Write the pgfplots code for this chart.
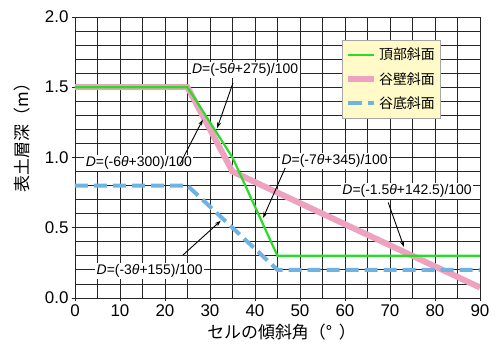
\documentclass[border=0pt]{standalone}
\usepackage{pgfplots}
\pgfplotsset{compat=1.18}
\usepackage{fontspec}
\setmainfont{Liberation Sans}
\newfontfamily\cjk{Noto Sans CJK JP}
\usetikzlibrary{arrows.meta}
\definecolor{cgreen}{RGB}{40,220,40}
\definecolor{cpink}{RGB}{238,162,192}
\definecolor{cblue}{RGB}{112,178,226}
\definecolor{legfill}{RGB}{255,250,200}
\begin{document}
\begin{tikzpicture}
\begin{axis}[
  at={(0,0)}, anchor=south west,
  scale only axis, width=405bp, height=281bp,
  xmin=0, xmax=90, ymin=0, ymax=2,
  xtick={0,10,20,30,40,50,60,70,80,90},
  ytick={0,0.5,1,1.5,2},
  minor xtick={5,15,25,35,45,55,65,75,85},
  minor ytick={0.1,0.2,0.3,0.4,0.6,0.7,0.8,0.9,1.1,1.2,1.3,1.4,1.6,1.7,1.8,1.9},
  grid=both,
  major grid style={black!85, line width=0.8bp},
  minor grid style={black!85, line width=0.8bp},
  axis line style={black!85, line width=0.8bp},
  tick style={black!85, line width=0.8bp},
  tick align=outside, tick pos=left,
  major tick length=3bp, minor tick length=0bp,
  /pgf/number format/assume math mode=true,
  ticklabel style={font=\fontsize{17}{17}\selectfont},
  yticklabel style={/pgf/number format/.cd, fixed, fixed zerofill, precision=1},
  xlabel={\cjk セルの傾斜角（°\hspace{0.4em}）},
  ylabel={\cjk 表土層深（m）},
  label style={font=\fontsize{17}{17}\selectfont},
  xlabel style={at={(axis description cs:0.51,-0.12)}, anchor=center},
  ylabel style={at={(axis description cs:-0.13,0.585)}, anchor=center},
  legend style={at={(axis description cs:0.659,0.918)}, anchor=north west,
    fill=legfill, draw=gray!70, font=\fontsize{14}{16}\selectfont\cjk,
    row sep=7bp, inner xsep=3bp, inner ysep=6bp},
  legend image code/.code={\draw[#1] (0bp,0bp) -- (26bp,0bp);},
  legend cell align=left,
]
\addlegendimage{cgreen, line width=2.2bp}
\addlegendentry{頂部斜面}
\addlegendimage{cpink, line width=6bp}
\addlegendentry{谷壁斜面}
\addlegendimage{cblue, line width=4bp, dash pattern=on 14bp off 6bp}
\addlegendentry{谷底斜面}

\addplot[cpink, line width=6bp, forget plot] coordinates {(0,1.5) (25,1.5) (35,0.9) (90,0.075)};
\addplot[cblue, line width=4bp, dash pattern=on 13bp off 6bp, forget plot] coordinates {(0,0.8) (25,0.8) (45,0.2) (90,0.2)};
\addplot[cgreen, line width=2.2bp, forget plot] coordinates {(0,1.5) (25,1.5) (35,1.0) (45,0.3) (90,0.3)};

\begin{scope}[every node/.style={fill=white, inner sep=1.5bp, font=\fontsize{14}{14}\selectfont}]
\node at (axis cs:37.8,1.62) {\textit{D}=(-5\textit{θ}+275)/100};
\node at (axis cs:14.2,0.96) {\textit{D}=(-6\textit{θ}+300)/100};
\node at (axis cs:57.7,0.975) {\textit{D}=(-7\textit{θ}+345)/100};
\node at (axis cs:73.8,0.76) {\textit{D}=(-1.5\textit{θ}+142.5)/100};
\node at (axis cs:16.6,0.19) {\textit{D}=(-3\textit{θ}+155)/100};
\end{scope}
\begin{scope}[-{Stealth[length=6bp,width=4bp]}, line width=0.9bp, black]
\draw (axis cs:35.1,1.53) -- (axis cs:31.6,1.21);
\draw (axis cs:23.3,0.95) -- (axis cs:28.4,1.27);
\draw (axis cs:46.7,0.925) -- (axis cs:41.8,0.57);
\draw (axis cs:69.6,0.68) -- (axis cs:73.1,0.363);
\draw (axis cs:24,0.306) -- (axis cs:32.4,0.55);
\end{scope}
\end{axis}
\path[use as bounding box] (-75bp,-52bp) rectangle (421bp,298bp);
\end{tikzpicture}
\end{document}
